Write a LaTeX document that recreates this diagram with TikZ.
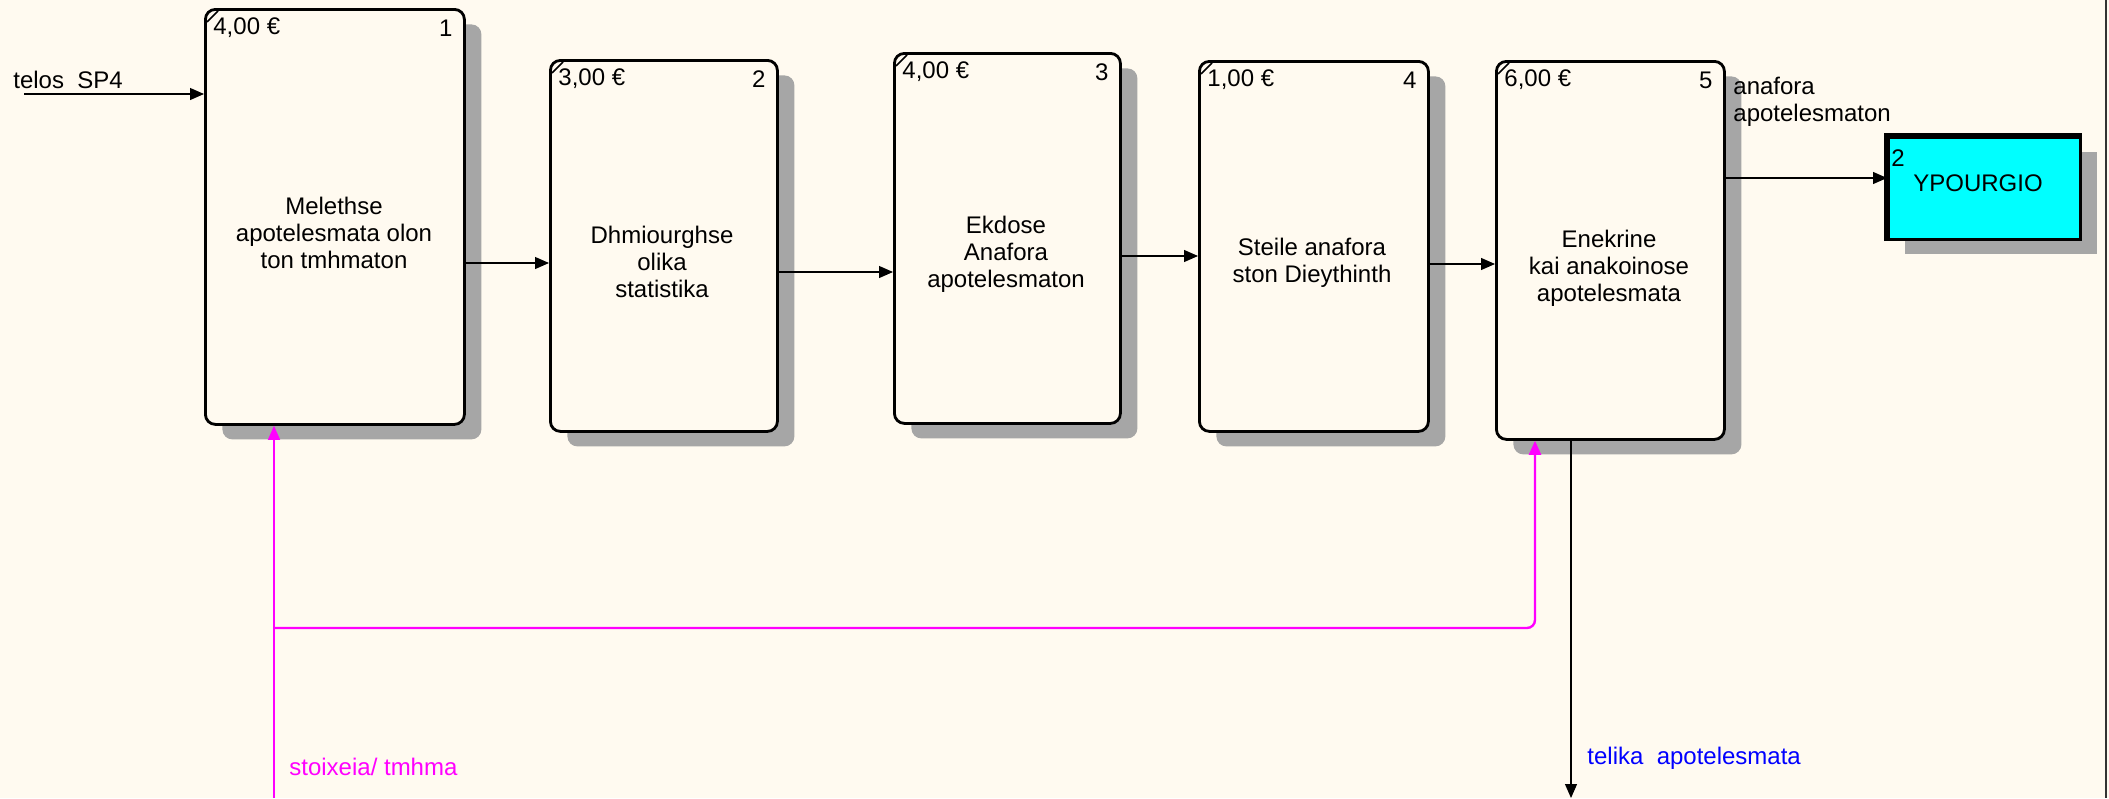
\documentclass[tikz,border=0pt]{standalone}
\usepackage{xcolor}
\usepackage{fontspec}
\setmainfont{Liberation Sans}
\usepackage{tikz}
\usetikzlibrary{arrows.meta,shadows}
\definecolor{paper}{RGB}{255,250,240}
\definecolor{mechpink}{RGB}{255,0,255}
\definecolor{aqua}{RGB}{0,255,255}

\begin{document}
\begin{tikzpicture}[
    x=0.5pt, y=-0.5pt,
    font=\fontsize{12}{13.5}\selectfont,
    process/.style={rectangle, draw=black, fill=paper, line width=1.4pt, rounded corners=5pt, inner sep=0pt, anchor=north west,
        drop shadow={shadow xshift=8.5pt, shadow yshift=-7.5pt, fill=black!35, opacity=1}},
    external/.style={rectangle, draw=black, fill=aqua, line width=1.5pt, inner sep=0pt, anchor=north west,
        drop shadow={shadow xshift=8pt, shadow yshift=-7pt, fill=black!35, opacity=1}},
    caption/.style={align=center, inner sep=0pt},
    cost/.style={anchor=west, inner sep=0pt},
    number/.style={anchor=east, inner sep=0pt},
    flow/.style={-{Triangle[length=7pt, width=6pt]}, line width=0.6pt},
    control/.style={flow, draw=mechpink}
]
    \path[fill=paper, use as bounding box] (0,0) rectangle (2109,798);
    \draw[line width=1pt, black!80] (2106,0) -- (2106,798);

    % Activities
    \node[process, minimum width=129.5pt, minimum height=207.5pt] (b1) at (204,8) {};
    \node[process, minimum width=113.5pt, minimum height=185.5pt] (b2) at (549,59) {};
    \node[process, minimum width=113pt, minimum height=185pt] (b3) at (893,52) {};
    \node[process, minimum width=114.5pt, minimum height=185pt] (b4) at (1198,60) {};
    \node[process, minimum width=114pt, minimum height=189pt] (b5) at (1495,60) {};
    \node[external, minimum width=96pt, minimum height=51pt] (ypo) at (1887,136) {};
    \draw[line width=3pt] (ypo.south west) -- (ypo.north west) -- (ypo.north east);

    % Corner marks
    \draw[line width=0.8pt] ([shift={(3,14)}]b1.north west) -- ([shift={(14,3)}]b1.north west);
    \draw[line width=0.8pt] ([shift={(3,14)}]b2.north west) -- ([shift={(14,3)}]b2.north west);
    \draw[line width=0.8pt] ([shift={(3,14)}]b3.north west) -- ([shift={(14,3)}]b3.north west);
    \draw[line width=0.8pt] ([shift={(3,14)}]b4.north west) -- ([shift={(14,3)}]b4.north west);
    \draw[line width=0.8pt] ([shift={(3,14)}]b5.north west) -- ([shift={(14,3)}]b5.north west);

    % Costs and numbers
    \node[cost] (c1) at ([shift={(9,20)}]b1.north west) {4,00 €};
    \node[number] (n1) at ([shift={(-13,20)}]b1.north east) {1};
    \node[cost] (c2) at ([shift={(9,20)}]b2.north west) {3,00 €};
    \node[number] (n2) at ([shift={(-13,20)}]b2.north east) {2};
    \node[cost] (c3) at ([shift={(9,20)}]b3.north west) {4,00 €};
    \node[number] (n3) at ([shift={(-13,20)}]b3.north east) {3};
    \node[cost] (c4) at ([shift={(9,20)}]b4.north west) {1,00 €};
    \node[number] (n4) at ([shift={(-13,20)}]b4.north east) {4};
    \node[cost] (c5) at ([shift={(9,20)}]b5.north west) {6,00 €};
    \node[number] (n5) at ([shift={(-13,20)}]b5.north east) {5};
    \node[cost] (c6) at ([shift={(4,22)}]ypo.north west) {2};

    % Texts
    \node[caption] (t1) at (334,233) {Melethse\\apotelesmata olon\\ton tmhmaton};
    \node[caption] (t2) at (662,262) {Dhmiourghse\\olika\\statistika};
    \node[caption] (t3) at (1006,254) {Ekdose\\Anafora\\apotelesmaton};
    \node[caption] (t4) at (1312,263) {Steile anafora\\ston Dieythinth};
    \node[caption] (t5) at (1609,268) {Enekrine\\kai anakoinose\\apotelesmata};
    \node[caption] (t6) at (1978,183) {YPOURGIO};

    % Flows
    \coordinate (in1) at (24,94);
    \coordinate (out5) at (1571,798);
    \coordinate (mech) at (274,798);
    \coordinate (split) at (274,628);
    \draw[flow] (in1) -- (b1.west |- in1);
    \draw[flow] (b1.east |- 0,263) -- (b2.west |- 0,263);
    \draw[flow] (b2.east |- 0,272) -- (b3.west |- 0,272);
    \draw[flow] (b3.east |- 0,256) -- (b4.west |- 0,256);
    \draw[flow] (b4.east |- 0,264) -- (b5.west |- 0,264);
    \draw[flow] (b5.east |- 0,178) -- (ypo.west |- 0,178);
    \draw[flow] (b5.south -| out5) -- (out5);
    \draw[control] (mech) -- (b1.south -| mech);
    \draw[control, line width=1.2pt, rounded corners=4pt] (split) -- (1535,628) -- (b5.south -| 1535,0);

    % Labels
    \node[anchor=west, inner sep=0pt] (lin) at (13,80) {telos\ \ SP4};
    \node[anchor=west, align=left, inner sep=0pt] (lrep) at (1733,102) {anafora\\apotelesmaton};
    \node[anchor=west, inner sep=0pt, text=mechpink] (lmech) at (289,767) {stoixeia/ tmhma};
    \node[anchor=west, inner sep=0pt, text=blue] (lres) at (1587,758) {telika\ \ apotelesmata};
\end{tikzpicture}
\end{document}
